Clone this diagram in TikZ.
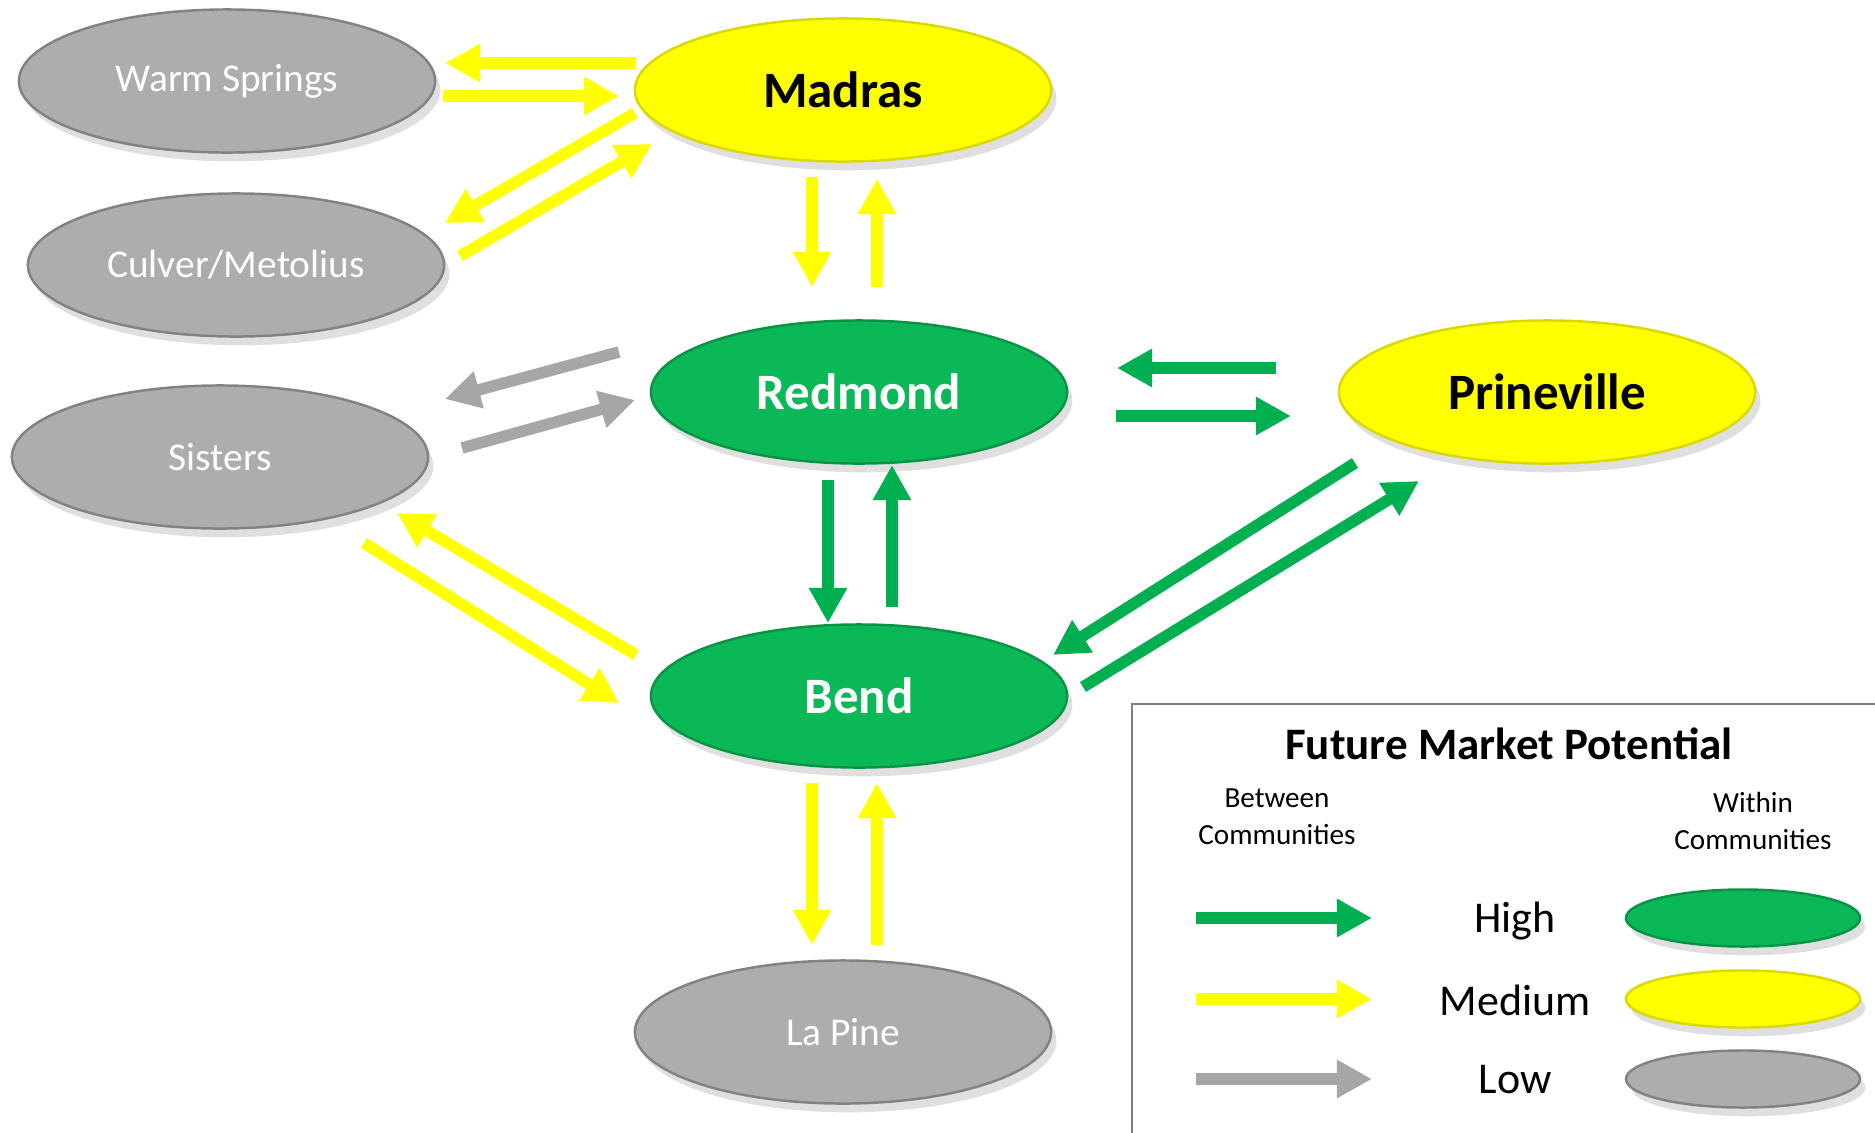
\documentclass[tikz,border=0pt]{standalone}
\usepackage{fontspec}
\setmainfont{Carlito}
\usetikzlibrary{shapes.geometric,arrows.meta,shadows}
\definecolor{arrGreen}{HTML}{00B050}
\definecolor{ellGreen}{HTML}{0BB857}
\definecolor{ellYellow}{HTML}{FFFF00}
\definecolor{arrGray}{HTML}{A6A6A6}
\definecolor{ellGray}{HTML}{ADADAD}

\begin{document}
\begin{tikzpicture}[x=0.01cm, y=-0.01cm,
    town/.style={ellipse, draw, line width=0.7pt, minimum width=4.16cm, minimum height=1.43cm, inner sep=0pt,
        drop shadow={shadow xshift=1.5pt, shadow yshift=-2.5pt, opacity=0.25}},
    hitown/.style={town, fill=ellGreen, draw=ellGreen!80!black, text=white, font=\fontsize{14.5}{17}\selectfont\bfseries},
    medtown/.style={town, fill=ellYellow, draw=ellYellow!85!black, text=black, font=\fontsize{14.5}{17}\selectfont\bfseries},
    lowtown/.style={town, fill=ellGray, draw=ellGray!75!black, text=white, font=\fontsize{11.2}{13}\selectfont},
    keytown/.style={minimum width=2.34cm, minimum height=0.57cm},
    flow/.style={line width=0.115cm, -{Triangle[width=0.36cm, length=0.35cm]}},
    keytext/.style={font=\fontsize{12.5}{15}\selectfont},
    subtext/.style={font=\fontsize{8.3}{10.5}\selectfont, align=center}
]
\useasboundingbox (0,0) rectangle (1875,1133);

% communities
\node[lowtown] (warm) at (227,81) {Warm Springs};
\node[medtown] (madras) at (843,90) {Madras};
\node[lowtown] (culver) at (236,265) {Culver/Metolius};
\node[hitown] (redmond) at (859,392) {Redmond};
\node[medtown] (prine) at (1547,392) {Prineville};
\node[lowtown] (sisters) at (220,457) {Sisters};
\node[hitown] (bend) at (859,696) {Bend};
\node[lowtown] (lapine) at (843,1032) {La Pine};

% arrow ends
\coordinate (mw1) at (636,63);  \coordinate (mw2) at (445,63);
\coordinate (wm1) at (443,96);  \coordinate (wm2) at (619,96);
\coordinate (mc1) at (635,113); \coordinate (mc2) at (445,223);
\coordinate (cm1) at (460,256); \coordinate (cm2) at (652,144);
\coordinate (mr1) at (812,177); \coordinate (mr2) at (812,287);
\coordinate (rm1) at (877,287); \coordinate (rm2) at (877,179);
\coordinate (rs1) at (619,352); \coordinate (rs2) at (445,399);
\coordinate (sr1) at (462,448); \coordinate (sr2) at (635,400);
\coordinate (pr1) at (1276,368); \coordinate (pr2) at (1117,368);
\coordinate (rp1) at (1116,416); \coordinate (rp2) at (1291,416);
\coordinate (rb1) at (828,480); \coordinate (rb2) at (828,623);
\coordinate (br1) at (892,607); \coordinate (br2) at (892,465);
\coordinate (bs1) at (636,655); \coordinate (bs2) at (397,513);
\coordinate (sb1) at (364,543); \coordinate (sb2) at (619,703);
\coordinate (pb1) at (1355,463); \coordinate (pb2) at (1053,655);
\coordinate (bp1) at (1083,687); \coordinate (bp2) at (1419,481);
\coordinate (bl1) at (812,783); \coordinate (bl2) at (812,945);
\coordinate (lb1) at (877,945); \coordinate (lb2) at (877,783);

\draw[flow, ellYellow] (mw1) -- (mw2);
\draw[flow, ellYellow] (wm1) -- (wm2);
\draw[flow, ellYellow] (mc1) -- (mc2);
\draw[flow, ellYellow] (cm1) -- (cm2);
\draw[flow, ellYellow] (mr1) -- (mr2);
\draw[flow, ellYellow] (rm1) -- (rm2);
\draw[flow, arrGray] (rs1) -- (rs2);
\draw[flow, arrGray] (sr1) -- (sr2);
\draw[flow, arrGreen] (pr1) -- (pr2);
\draw[flow, arrGreen] (rp1) -- (rp2);
\draw[flow, arrGreen] (rb1) -- (rb2);
\draw[flow, arrGreen] (br1) -- (br2);
\draw[flow, ellYellow] (bs1) -- (bs2);
\draw[flow, ellYellow] (sb1) -- (sb2);
\draw[flow, arrGreen] (pb1) -- (pb2);
\draw[flow, arrGreen] (bp1) -- (bp2);
\draw[flow, ellYellow] (bl1) -- (bl2);
\draw[flow, ellYellow] (lb1) -- (lb2);

% legend
\draw[gray, line width=0.8pt] (1132,1140) |- (1880,704);
\node[font=\fontsize{12.8}{15}\selectfont\bfseries] (title) at (1509,744) {Future Market Potential};
\node[subtext] (between) at (1277,817) {Between\\Communities};
\node[subtext] (within) at (1753,821) {Within\\Communities};

\coordinate (kh1) at (1196,918); \coordinate (kh2) at (1372,918);
\coordinate (km1) at (1196,999); \coordinate (km2) at (1372,999);
\coordinate (kl1) at (1196,1079); \coordinate (kl2) at (1372,1079);
\draw[flow, arrGreen] (kh1) -- (kh2);
\draw[flow, ellYellow] (km1) -- (km2);
\draw[flow, arrGray] (kl1) -- (kl2);

\node[keytext] (high) at (1515,921) {High};
\node[keytext] (medium) at (1515,1000) {Medium};
\node[keytext] (low) at (1515,1080) {Low};

\node[hitown, keytown] (keyhigh) at (1743,918) {};
\node[medtown, keytown] (keymed) at (1743,999) {};
\node[lowtown, keytown] (keylow) at (1743,1079) {};
\end{tikzpicture}
\end{document}
